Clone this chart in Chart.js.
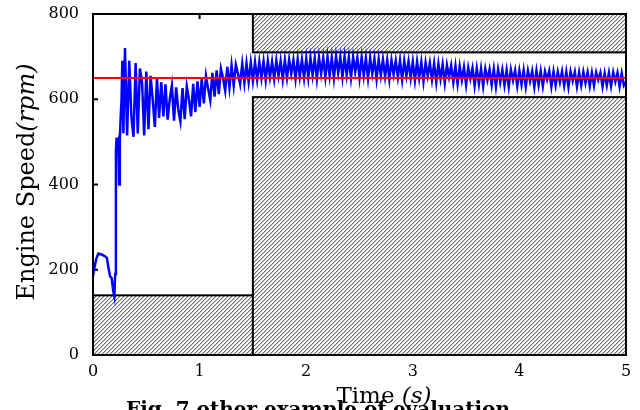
<!DOCTYPE html>
<html lang="en">
<head>
    <meta charset="UTF-8">
    <title>Engine Speed evaluation</title>
    <style>
        body {
            margin: 0;
            background-color: #ffffff;
        }

        .chart-box {
            position: relative;
            width: 640px;
            height: 410px;
        }
    </style>
</head>
<body>

<div class="chart-box">
    <canvas id="speedChart" width="640" height="410"></canvas>
</div>

<script src="https://cdn.jsdelivr.net/npm/chart.js"></script>
<script>
    // Messdaten: Zeit (s) und Motordrehzahl (rpm)
    const timeS = [
        0, 0.01, 0.03, 0.05, 0.08, 0.11, 0.13, 0.145, 0.16, 0.175,
        0.19, 0.2, 0.208, 0.215, 0.222, 0.23, 0.238, 0.245, 0.252, 0.26,
        0.268, 0.275, 0.285,
        0.30, 0.32, 0.34, 0.36, 0.38, 0.40, 0.42, 0.44, 0.46, 0.48,
        0.50, 0.52, 0.54, 0.56, 0.58, 0.60,
        0.62, 0.64, 0.66, 0.68, 0.70, 0.72, 0.74, 0.76, 0.78, 0.80,
        0.82, 0.84, 0.86, 0.88, 0.90, 0.92, 0.94, 0.96, 0.98, 1.00,
        1.02, 1.04, 1.06, 1.08, 1.10, 1.12, 1.14, 1.16, 1.18, 1.20,
        1.22, 1.24, 1.26, 1.28, 1.30, 1.32, 1.34, 1.36, 1.38, 1.40,
        1.42, 1.44, 1.46, 1.48, 1.50,
        1.52, 1.54, 1.56, 1.58, 1.60, 1.62, 1.64, 1.66, 1.68, 1.70,
        1.72, 1.74, 1.76, 1.78, 1.80, 1.82, 1.84, 1.86, 1.88, 1.90,
        1.92, 1.94, 1.96, 1.98, 2.00,
        2.02, 2.04, 2.06, 2.08, 2.10, 2.12, 2.14, 2.16, 2.18, 2.20,
        2.22, 2.24, 2.26, 2.28, 2.30, 2.32, 2.34, 2.36, 2.38, 2.40,
        2.42, 2.44, 2.46, 2.48, 2.50, 2.52, 2.54, 2.56, 2.58, 2.60,
        2.62, 2.64, 2.66, 2.68, 2.70, 2.72, 2.74, 2.76, 2.78, 2.80,
        2.82, 2.84, 2.86, 2.88, 2.90, 2.92, 2.94, 2.96, 2.98, 3.00,
        3.02, 3.04, 3.06, 3.08, 3.10, 3.12, 3.14, 3.16, 3.18, 3.20,
        3.22, 3.24, 3.26, 3.28, 3.30, 3.32, 3.34, 3.36, 3.38, 3.40,
        3.42, 3.44, 3.46, 3.48, 3.50, 3.52, 3.54, 3.56, 3.58, 3.60,
        3.62, 3.64, 3.66, 3.68, 3.70, 3.72, 3.74, 3.76, 3.78, 3.80,
        3.82, 3.84, 3.86, 3.88, 3.90, 3.92, 3.94, 3.96, 3.98, 4.00,
        4.02, 4.04, 4.06, 4.08, 4.10, 4.12, 4.14, 4.16, 4.18, 4.20,
        4.22, 4.24, 4.26, 4.28, 4.30, 4.32, 4.34, 4.36, 4.38, 4.40,
        4.42, 4.44, 4.46, 4.48, 4.50, 4.52, 4.54, 4.56, 4.58, 4.60,
        4.62, 4.64, 4.66, 4.68, 4.70, 4.72, 4.74, 4.76, 4.78, 4.80,
        4.82, 4.84, 4.86, 4.88, 4.90, 4.92, 4.94, 4.96, 4.98, 5.00
    ];
    const speedRpm = [
        185, 200, 225, 238, 236, 232, 228, 205, 185, 180,
        150, 138, 190, 480, 510, 490, 500, 400, 505, 560,
        600, 690, 520,
        720, 515, 690, 560, 512, 685, 520, 672, 640, 515,
        665, 530, 655, 600, 535, 650,
        556, 640, 560, 635, 552, 600, 632, 550, 628, 575,
        548, 626, 553, 630, 600, 560, 636, 570, 642, 582,
        648, 590, 655, 625, 598, 662, 606, 668, 612, 672,
        650, 620, 676, 628, 679, 632, 681, 660, 636, 683,
        638, 684, 641, 686, 643,
        687, 646, 688, 650, 689, 645, 690, 652, 688, 648,
        691, 655, 690, 647, 692, 651, 693, 660, 692, 648,
        694, 653, 693, 650, 695,
        650, 697, 656, 696, 648, 698, 660, 697, 652, 699,
        655, 698, 650, 700, 662, 699, 652, 700, 657, 698,
        651, 699, 664, 697, 650, 698, 655, 696, 649, 697,
        660, 695, 648, 694, 656, 693, 653, 692, 647, 691,
        658, 690, 652, 691, 646, 690, 655, 689, 650, 688,
        644, 688, 650, 687, 642, 686, 655, 685, 646, 684,
        640, 683, 648, 682, 638, 680, 652, 679, 640, 678,
        636, 677, 645, 675, 634, 674, 648, 673, 632, 672,
        636, 672, 631, 671, 645, 670, 634, 671, 630, 670,
        640, 669, 633, 668, 630, 669, 644, 668, 631, 667,
        635, 668, 630, 667, 642, 666, 629, 667, 634, 666,
        631, 665, 646, 666, 630, 665, 633, 664, 640, 665,
        632, 664, 629, 665, 643, 664, 630, 663, 633, 664,
        638, 663, 631, 662, 632, 663, 645, 662, 630, 661,
        633, 662, 631, 663, 641, 662, 630, 661, 632, 640
    ];

    // Sollwert und Toleranzbereiche (schraffiert)
    const targetRpm = 650;
    const zoneStart = [0, 1.5, 1.5];
    const zoneEnd = [1.5, 5, 5];
    const zoneLow = [0, 710, 0];
    const zoneHigh = [140, 800, 605];

    // Achsen
    const xTicks = [0, 1, 2, 3, 4, 5];
    const yTicks = [0, 200, 400, 600, 800];

    const serif = '"DejaVu Serif", "Liberation Serif", serif';

    // feines Schraffur-Muster (4x4 Pixel, diagonal "/")
    function makeHatch(target) {
        const c = document.createElement('canvas');
        c.width = 4;
        c.height = 4;
        const p = c.getContext('2d');
        p.fillStyle = '#ffffff';
        p.fillRect(0, 0, 4, 4);
        for (let i = 0; i < 4; i++) {
            p.fillStyle = '#6e6e6e';
            p.fillRect(3 - i, i, 1, 1);
            p.fillStyle = '#c4c4c4';
            p.fillRect((4 - i) % 4, i, 1, 1);
        }
        return target.createPattern(c, 'repeat');
    }

    const zonePlugin = {
        id: 'zones',
        beforeDatasetsDraw(chart) {
            const { ctx, chartArea, scales } = chart;
            const hatch = makeHatch(ctx);
            ctx.save();

            // kleine Ticks nach innen
            ctx.strokeStyle = '#000';
            ctx.lineWidth = 2;
            ctx.beginPath();
            xTicks.forEach(v => {
                const x = scales.x.getPixelForValue(v);
                ctx.moveTo(x, chartArea.bottom);
                ctx.lineTo(x, chartArea.bottom - 5);
                ctx.moveTo(x, chartArea.top);
                ctx.lineTo(x, chartArea.top + 5);
            });
            yTicks.forEach(v => {
                const y = scales.y.getPixelForValue(v);
                ctx.moveTo(chartArea.left, y);
                ctx.lineTo(chartArea.left + 5, y);
                ctx.moveTo(chartArea.right, y);
                ctx.lineTo(chartArea.right - 5, y);
            });
            ctx.stroke();

            for (let i = 0; i < zoneStart.length; i++) {
                const x1 = scales.x.getPixelForValue(zoneStart[i]);
                const x2 = scales.x.getPixelForValue(zoneEnd[i]);
                const y1 = scales.y.getPixelForValue(zoneHigh[i]);
                const y2 = scales.y.getPixelForValue(zoneLow[i]);
                ctx.fillStyle = hatch;
                ctx.fillRect(x1, y1, x2 - x1, y2 - y1);
                ctx.strokeStyle = '#000';
                ctx.lineWidth = 2;
                ctx.strokeRect(x1, y1, x2 - x1, y2 - y1);
            }
            ctx.restore();
        },
        afterDraw(chart) {
            const { ctx, chartArea } = chart;
            ctx.save();

            // Rahmen
            ctx.strokeStyle = '#000';
            ctx.lineWidth = 2;
            ctx.strokeRect(chartArea.left, chartArea.top,
                chartArea.right - chartArea.left, chartArea.bottom - chartArea.top);

            ctx.fillStyle = '#000';
            ctx.textBaseline = 'alphabetic';

            // y-Achsentitel: "Engine Speed" + kursiv "(rpm)"
            const yMain = 'Engine Speed';
            const yUnit = '(rpm)';
            ctx.font = '24px ' + serif;
            const w1 = ctx.measureText(yMain).width;
            ctx.font = 'italic 24px ' + serif;
            const w2 = ctx.measureText(yUnit).width;
            ctx.translate(34, 182);
            ctx.rotate(-Math.PI / 2);
            ctx.textAlign = 'left';
            ctx.font = '24px ' + serif;
            ctx.fillText(yMain, -(w1 + w2) / 2, 0);
            ctx.font = 'italic 24px ' + serif;
            ctx.fillText(yUnit, -(w1 + w2) / 2 + w1, 0);
            ctx.setTransform(1, 0, 0, 1, 0, 0);

            // Bildunterschrift (unten abgeschnitten)
            ctx.font = 'bold 20px ' + serif;
            ctx.textAlign = 'center';
            ctx.fillText('Fig. 7 other example of evaluation', 318, 416);

            // x-Achsentitel: "Time " + kursiv "(s)"
            const xMain = 'Time ';
            const xUnit = '(s)';
            ctx.font = '23px ' + serif;
            const a1 = ctx.measureText(xMain).width;
            ctx.font = 'italic 23px ' + serif;
            const a2 = ctx.measureText(xUnit).width;
            const startX = 384 - (a1 + a2) / 2;
            ctx.textAlign = 'left';
            ctx.font = '23px ' + serif;
            ctx.fillText(xMain, startX, 403);
            ctx.font = 'italic 23px ' + serif;
            ctx.fillText(xUnit, startX + a1, 403);

            ctx.restore();
        }
    };

    const ctx = document.getElementById('speedChart').getContext('2d');

    const data = {
        datasets: [{
            label: 'Target',
            data: [{ x: 0, y: targetRpm }, { x: 5, y: targetRpm }],
            borderColor: '#ff0000',
            borderWidth: 2,
            pointRadius: 0,
            fill: false,
            order: 0 // rote Linie oben
        }, {
            label: 'Engine Speed',
            data: timeS.map((t, i) => ({ x: t, y: speedRpm[i] })),
            borderColor: '#0000ff',
            borderWidth: 2.5,
            pointRadius: 0,
            tension: 0,
            fill: false,
            order: 1
        }]
    };

    const options = {
        responsive: false,
        animation: false,
        events: [],
        plugins: {
            legend: { display: false },
            tooltip: { enabled: false }
        },
        layout: {
            padding: { left: 0, top: 14, right: 14, bottom: 0 }
        },
        scales: {
            x: {
                type: 'linear',
                min: 0,
                max: 5,
                afterFit: s => { s.height = 55; s.paddingLeft = 0; s.paddingRight = 0; },
                afterBuildTicks: s => { s.ticks = xTicks.map(v => ({ value: v })); },
                grid: { display: false, drawTicks: false },
                border: { display: false },
                ticks: {
                    padding: 7,
                    color: '#000',
                    maxRotation: 0,
                    font: { family: serif, size: 16 }
                }
            },
            y: {
                min: 0,
                max: 800,
                afterFit: s => { s.width = 93; s.paddingTop = 0; s.paddingBottom = 0; },
                afterBuildTicks: s => { s.ticks = yTicks.map(v => ({ value: v })); },
                grid: { display: false, drawTicks: false },
                border: { display: false },
                ticks: {
                    padding: 14,
                    color: '#000',
                    font: { family: serif, size: 16 }
                }
            }
        }
    };

    new Chart(ctx, {
        type: 'line',
        data: data,
        options: options,
        plugins: [zonePlugin]
    });
</script>

</body>
</html>
